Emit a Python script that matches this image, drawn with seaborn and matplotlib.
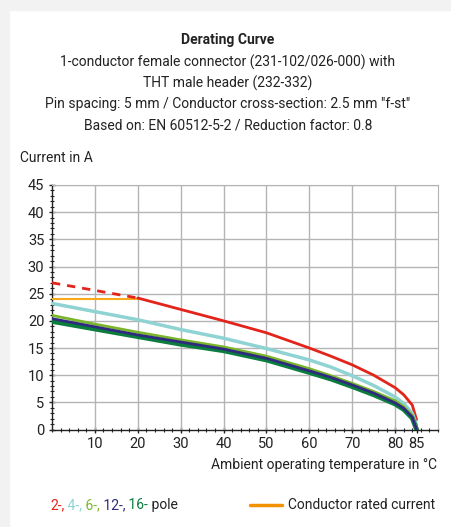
import numpy as np
import pandas as pd
import seaborn as sns
import matplotlib.pyplot as plt
from matplotlib.ticker import MultipleLocator, FixedLocator
from matplotlib.offsetbox import TextArea, HPacker, AnchoredOffsetbox
from matplotlib.patches import Rectangle

# Derating data
temps = [0, 10, 20, 30, 40, 50, 60, 65, 70, 75, 80, 82, 84, 85]
pole_2 = [27.0, 25.6, 24.2, 22.1, 20.0, 17.8, 15.0, 13.5, 11.9, 10.0, 7.7, 6.4, 4.5, 1.8]
pole_4 = [23.2, 21.7, 20.2, 18.4, 16.8, 14.9, 12.8, 11.5, 9.9, 8.1, 6.0, 4.8, 3.0, 0.8]
pole_6 = [21.0, 19.4, 17.9, 16.5, 15.2, 13.5, 11.2, 9.9, 8.5, 7.0, 5.3, 4.2, 2.6, 0.0]
pole_12 = [20.4, 18.9, 17.4, 16.1, 14.8, 13.1, 10.8, 9.6, 8.2, 6.7, 4.9, 3.9, 2.3, 0.0]
pole_16 = [19.9, 18.5, 17.1, 15.7, 14.5, 12.8, 10.5, 9.3, 7.9, 6.4, 4.7, 3.7, 2.1, 0.0]
rated_temps = [0, 20]
rated_current = [24.0, 24.0]

x_ticks = [10, 20, 30, 40, 50, 60, 70, 80, 85]
title_lines = [
    "1-conductor female connector (231-102/026-000) with",
    "THT male header (232-332)",
    'Pin spacing: 5 mm / Conductor cross-section: 2.5 mm "f-st"',
    "Based on: EN 60512-5-2 / Reduction factor: 0.8",
]

RED = "#e3241b"
LBLUE = "#8fd3d3"
LGREEN = "#7bb52a"
NAVY = "#2e2b7f"
DGREEN = "#0b7d3c"
ORANGE = "#f7a81b"
FS = 10

sns.set_style("white")
plt.rcParams["font.family"] = ["Roboto", "DejaVu Sans"]
plt.rcParams["text.color"] = "#222222"

fig = plt.figure(figsize=(4.51, 5.27), dpi=100)
fig.patches.append(Rectangle((0, 0), 9 / 451, 1, transform=fig.transFigure,
                             color="#f2f2f2", zorder=-1))
fig.patches.append(Rectangle((0, 1 - 10 / 527), 1, 10 / 527, transform=fig.transFigure,
                             color="#f2f2f2", zorder=-1))

ax = fig.add_axes([52 / 451, 1 - 429.5 / 527, 386 / 451, 244.5 / 527])

df = pd.DataFrame({"t": temps, "p2": pole_2, "p4": pole_4, "p6": pole_6,
                   "p12": pole_12, "p16": pole_16})
solid = df[df["t"] >= 20]
dashed = df[df["t"] <= 20]

sns.lineplot(x=rated_temps, y=rated_current, color=ORANGE, lw=1.5, ax=ax, zorder=3)
sns.lineplot(x=dashed["t"], y=dashed["p2"], color=RED, lw=2, ax=ax, zorder=4,
             linestyle=(0, (3, 2.5)))
sns.lineplot(x=solid["t"], y=solid["p2"], color=RED, lw=2, ax=ax, zorder=4)
sns.lineplot(data=df, x="t", y="p4", color=LBLUE, lw=2.5, ax=ax, zorder=4)
sns.lineplot(data=df, x="t", y="p16", color=DGREEN, lw=3.5, ax=ax, zorder=4)
sns.lineplot(data=df, x="t", y="p12", color=NAVY, lw=2, ax=ax, zorder=5)
sns.lineplot(data=df, x="t", y="p6", color=LGREEN, lw=2, ax=ax, zorder=4)

ax.set_xlim(0, 90)
ax.set_ylim(0, 45)
ax.xaxis.set_major_locator(FixedLocator(x_ticks))
ax.xaxis.set_minor_locator(MultipleLocator(2))
ax.yaxis.set_major_locator(MultipleLocator(5))
ax.yaxis.set_minor_locator(MultipleLocator(1))
ax.set_xlabel("")
ax.set_ylabel("")

for x in range(10, 90, 10):
    ax.axvline(x, color="#b4b4b4", lw=1, zorder=1)
for y in range(5, 50, 5):
    ax.axhline(y, color="#b4b4b4", lw=1, zorder=1)

for s in ["top", "right"]:
    ax.spines[s].set_color("#b4b4b4")
for s in ["left", "bottom"]:
    ax.spines[s].set_color("#222222")
    ax.spines[s].set_linewidth(1)

ax.tick_params(axis="both", which="major", direction="inout", length=5, width=1,
               labelsize=10.5, colors="#222222", pad=3, left=True, bottom=True)
ax.tick_params(axis="both", which="minor", direction="inout", length=3, width=0.8,
               colors="#222222", left=True, bottom=True)

# titles
fig.text(0.505, 1 - 40 / 527, "Derating Curve", ha="center", va="center",
         fontsize=FS, fontweight="bold")
for i, line in enumerate(title_lines):
    fig.text(0.505, 1 - (62 + 21 * i) / 527, line, ha="center", va="center", fontsize=FS)

fig.text(20 / 451, 1 - 158 / 527, "Current in A", ha="left", va="center", fontsize=FS)
fig.text(437 / 451, 1 - 465 / 527, "Ambient operating temperature in °C",
         ha="right", va="center", fontsize=FS)

# legend
parts = [("2-,", RED), (" 4-,", LBLUE), (" 6-,", LGREEN), (" 12-,", NAVY),
         (" 16-", DGREEN), (" pole", "#222222")]
boxes = [TextArea(t, textprops=dict(color=c, fontsize=FS)) for t, c in parts]
pack = HPacker(children=boxes, align="baseline", pad=0, sep=0)
anch = AnchoredOffsetbox(loc="center left", child=pack, frameon=False, pad=0,
                         bbox_to_anchor=(50 / 451, 1 - 505 / 527),
                         bbox_transform=fig.transFigure, borderpad=0)
fig.add_artist(anch)

fig.add_artist(plt.Line2D([250 / 451, 282 / 451], [1 - 505 / 527] * 2,
                          transform=fig.transFigure, color="#f39200", lw=2.5))
fig.text(288 / 451, 1 - 505 / 527, "Conductor rated current", ha="left", va="center",
         fontsize=FS)

fig.savefig("out.png", dpi=100)
